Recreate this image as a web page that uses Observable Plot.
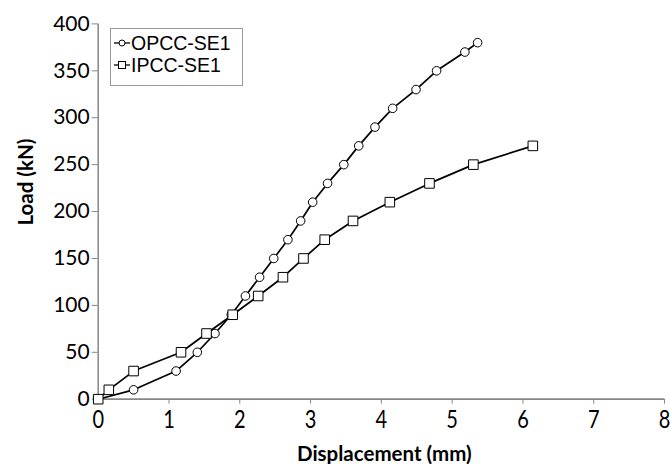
<!DOCTYPE html>
<html>
<head>
<meta charset="utf-8">
<script src="https://cdn.jsdelivr.net/npm/d3@7"></script>
<script src="https://cdn.jsdelivr.net/npm/@observablehq/plot@0.6"></script>
<style>
  html, body { margin: 0; padding: 0; background: #fff; }
  #wrap { position: relative; width: 670px; height: 464px; font-family: Lato, "Open Sans", sans-serif; }
  #legend { position: absolute; left: 110px; top: 28px; width: 133px; height: 58px;
    border: 1px solid #9a9a9a; background: #fff; box-sizing: border-box; }
  .row { position: absolute; left: 3px; height: 20px; display: flex; align-items: center; color: #000; white-space: nowrap; }
  .row svg { margin-right: 1px; }
  .row span { display: inline-block; height: 20px; line-height: 20px; font-family: "Liberation Sans", Arial, sans-serif; font-size: 19.5px; }
</style>
</head>
<body>
<div id="wrap"></div>
<script>
// Data
const opccDisp = [0, 0.5, 1.1, 1.4, 1.65, 1.88, 2.08, 2.28, 2.48, 2.68, 2.86, 3.03, 3.24, 3.47, 3.68, 3.91, 4.16, 4.49, 4.78, 5.18, 5.36];
const opccLoad = [0, 10, 30, 50, 70, 90, 110, 130, 150, 170, 190, 210, 230, 250, 270, 290, 310, 330, 350, 370, 380];
const ipccDisp = [0, 0.15, 0.5, 1.17, 1.53, 1.9, 2.26, 2.61, 2.9, 3.2, 3.6, 4.12, 4.68, 5.3, 6.14];
const ipccLoad = [0, 10, 30, 50, 70, 90, 110, 130, 150, 170, 190, 210, 230, 250, 270];
const xTicks = [0, 1, 2, 3, 4, 5, 6, 7, 8];
const yTicks = [0, 50, 100, 150, 200, 250, 300, 350, 400];
const seriesNames = ["OPCC-SE1", "IPCC-SE1"];
const xTitle = "Displacement (mm)";
const yTitle = "Load (kN)";

const opcc = opccDisp.map((d, i) => ({x: d, y: opccLoad[i]}));
const ipcc = ipccDisp.map((d, i) => ({x: d, y: ipccLoad[i]}));

const axisColor = "#868686";

const chart = Plot.plot({
  width: 670,
  height: 464,
  marginLeft: 97.7,
  marginRight: 6,
  marginTop: 23.4,
  marginBottom: 65.3,
  style: {fontFamily: "Lato, 'Open Sans', sans-serif", fontSize: "20px", color: "#000", background: "#fff", overflow: "visible"},
  x: {domain: [0, 8]},
  y: {domain: [0, 400]},
  marks: [
    Plot.axisX({ticks: xTicks, tickSize: 5, tickPadding: 6, stroke: axisColor, label: null, fontSize: 20}),
    Plot.axisY({ticks: yTicks, tickSize: 6, tickPadding: 2.5, stroke: axisColor, label: null, fontSize: 21}),
    Plot.ruleX([0], {stroke: axisColor, strokeWidth: 1.5}),
    Plot.ruleY([0], {stroke: axisColor, strokeWidth: 1.8}),
    Plot.line(opcc, {x: "x", y: "y", stroke: "#000", strokeWidth: 1.7}),
    Plot.dot(opcc, {x: "x", y: "y", symbol: "circle", r: 4.3, fill: "#fff", stroke: "#000", strokeWidth: 1}),
    Plot.line(ipcc, {x: "x", y: "y", stroke: "#000", strokeWidth: 1.7}),
    Plot.dot(ipcc, {x: "x", y: "y", symbol: "square", r: 5.4, fill: "#fff", stroke: "#000", strokeWidth: 1}),
    Plot.text([xTitle], {frameAnchor: "bottom", lineAnchor: "top", dy: 47, dx: 3, fontWeight: "bold", fontSize: 20.5, fill: "#000"}),
    Plot.text([yTitle], {frameAnchor: "left", rotate: -90, dx: -72, dy: 14, fontWeight: "bold", fontSize: 20.5, fill: "#000"})
  ]
});

// The reference's x tick labels are drawn slightly taller than wide
function stretchY(el, s) {
  const t = el.getAttribute("transform");
  if (t) el.setAttribute("transform", t + ` scale(1,${s})`);
  else {
    const x = +el.getAttribute("x") || 0, y = +el.getAttribute("y") || 0;
    el.setAttribute("transform", `translate(${x},${y}) scale(1,${s}) translate(${-x},${-y})`);
  }
}
d3.select(chart).selectAll('g[aria-label="x-axis tick label"] text').each(function() { stretchY(this, 1.25); });

const wrap = document.getElementById("wrap");
wrap.appendChild(chart);

// Legend (inside plot area, as in the reference)
const legend = document.createElement("div");
legend.id = "legend";
const markers = [
  `<svg width="16" height="12"><line x1="0" y1="6" x2="16" y2="6" stroke="#000" stroke-width="1.3"/><circle cx="8" cy="6" r="3" fill="#fff" stroke="#000" stroke-width="1"/></svg>`,
  `<svg width="16" height="12"><line x1="0" y1="6" x2="16" y2="6" stroke="#000" stroke-width="1.3"/><rect x="4.5" y="2.5" width="7" height="7" fill="#fff" stroke="#000" stroke-width="1"/></svg>`
];
seriesNames.forEach((name, i) => {
  const row = document.createElement("div");
  row.className = "row";
  row.style.top = (4 + i * 22) + "px";
  row.innerHTML = markers[i] + `<span>${name}</span>`;
  legend.appendChild(row);
});
wrap.appendChild(legend);
</script>
</body>
</html>
